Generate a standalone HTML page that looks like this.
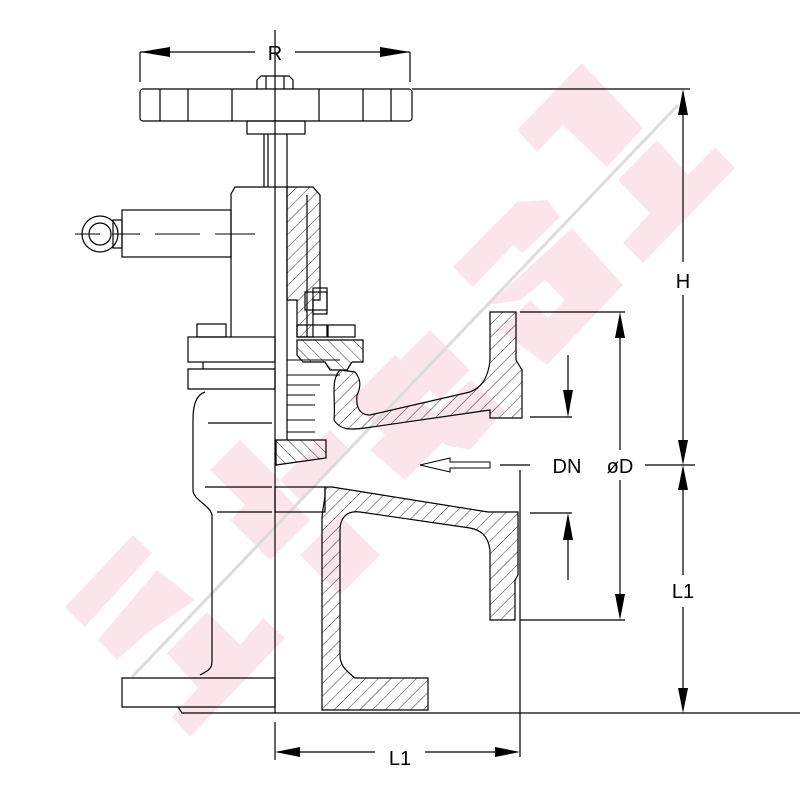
<!DOCTYPE html>
<html><head><meta charset="utf-8"><style>html,body{margin:0;padding:0;background:#fff}svg{display:block}</style></head>
<body>
<svg width="800" height="800" viewBox="0 0 800 800" xmlns="http://www.w3.org/2000/svg" font-family="Liberation Sans, sans-serif">
<defs>
<pattern id="h" width="9" height="9" patternUnits="userSpaceOnUse" patternTransform="rotate(45)">
<line x1="0" y1="0" x2="0" y2="9" stroke="#000" stroke-width="0.8"/></pattern>
<pattern id="h2" width="9" height="9" patternUnits="userSpaceOnUse" patternTransform="rotate(-45)">
<line x1="0" y1="0" x2="0" y2="9" stroke="#000" stroke-width="0.8"/></pattern>
</defs>
<!-- watermark -->
<g fill="#fbe5ea">
<polygon points="517,130 582,63 643,128 607,167 563,125 537,152"/>
<polygon points="618,180 657,140 688,175 715,147 735,168 643,263 623,243 650,213"/>
<polygon points="453,267 517,202 547,200 560,217 523,253 513,245 473,287"/>
<polygon points="488,305 572,228 623,285 547,365 500,330 530,300 548,318 565,300 545,280 520,300"/>
<polygon points="400,360 430,330 470,370 440,400"/>
<polygon points="350,400 395,355 430,390 385,435"/>
<polygon points="370,450 420,400 455,430 405,480"/>
<polygon points="430,420 470,380 505,410 470,450 445,445"/>
<polygon points="210,470 240,440 280,480 250,510"/>
<polygon points="230,520 270,480 310,520 270,560"/>
<polygon points="280,480 330,430 350,450 300,500"/>
<polygon points="300,555 340,515 380,555 340,595"/>
<polygon points="65,607 133,535 152,553 85,627"/>
<polygon points="98,640 157,570 195,600 147,633 117,660"/>
<polygon points="167,653 207,612 240,645 263,618 285,638 190,737 172,717 198,688"/>
</g>
<line x1="132" y1="677" x2="678" y2="105" stroke="#dcdcdc" stroke-width="3"/>
<g fill="none" stroke="#000" stroke-width="1.2">
<!-- R dim -->
<line x1="140" y1="52" x2="140" y2="82"/><line x1="410" y1="52" x2="410" y2="82"/>
<line x1="140" y1="52" x2="255" y2="52"/><line x1="295" y1="52" x2="410" y2="52"/>
<!-- handwheel -->
<rect x="140" y="89" width="272" height="32" rx="3"/>
<line x1="160" y1="89" x2="160" y2="121"/><line x1="188" y1="89" x2="188" y2="121"/><line x1="232" y1="89" x2="232" y2="121"/>
<line x1="319" y1="89" x2="319" y2="121"/><line x1="363" y1="89" x2="363" y2="121"/><line x1="391" y1="89" x2="391" y2="121"/>
<path d="M257,89 V80 l4,-4 h28 l4,4 V89"/><line x1="266" y1="76" x2="266" y2="89"/><line x1="284" y1="76" x2="284" y2="89"/>
<rect x="247" y="121" width="58" height="13"/>
<line x1="264" y1="134" x2="264" y2="187"/><line x1="268" y1="134" x2="268" y2="187"/>
<line x1="275" y1="30" x2="275" y2="713"/><line x1="287" y1="134" x2="287" y2="440"/>
<line x1="412" y1="89" x2="690" y2="89"/>
<!-- yoke -->
<path d="M231,337 V194 l4,-7 H287"/>
<rect x="122" y="210" width="109" height="47"/>
<rect x="113" y="220" width="9" height="28"/>
<circle cx="100" cy="234" r="18"/><circle cx="100" cy="234" r="11"/>
<path d="M75,234 H100 M112,234 H140 M155,234 H200 M215,234 H255" stroke-width="1"/>
<!-- hatched bonnet section -->
<path d="M287,187 H313 L320,195 V300 H313 V337 H297 V300 H287 Z" fill="url(#h)"/>
<line x1="307" y1="195" x2="307" y2="337"/>
<rect x="305" y="292" width="22" height="18"/><rect x="313" y="288" width="14" height="26"/>
<rect x="297" y="325" width="30" height="12"/><rect x="328" y="325" width="27" height="12"/>
<!-- flanges left -->
<rect x="188" y="337" width="87" height="25"/>
<rect x="197" y="324" width="29" height="13"/>
<path d="M203,362 V369 M188,369 H275 V389 H188 Z"/>
<path d="M297,340 H363 V362 H352 L347,370 H330 L325,362 H303 L297,355 Z" fill="url(#h2)"/>
<!-- packing -->
<g stroke-width="1">
<line x1="287" y1="360" x2="340" y2="360"/><line x1="287" y1="375" x2="340" y2="375"/>
<line x1="287" y1="385" x2="320" y2="385"/><line x1="287" y1="395" x2="315" y2="395"/>
<line x1="287" y1="405" x2="315" y2="405"/><line x1="287" y1="420" x2="315" y2="420"/>
<line x1="287" y1="432" x2="315" y2="432"/>
</g>
<!-- body left -->
<path d="M205,392 C196,395 193,405 193,420 V490 C193,500 210,505 212,515 V662 C212,670 205,672 200,675"/>
<path d="M122,678 H275 V707 H122 Z"/>
<path d="M178,707 L182,713 H275"/>
<line x1="205" y1="487" x2="272" y2="487"/><line x1="217" y1="512" x2="272" y2="512"/>
<line x1="208" y1="423" x2="272" y2="423"/>
<!-- lower disk -->
<path d="M276,440 H326 V458 L276,465 Z" fill="url(#h2)"/>
<!-- upper body hatched -->
<path d="M340,370 C330,380 336,400 334,420 C340,430 350,430 365,428 L490,410 L490,418 H522 V370 L516,360 V312 H490 V360 C488,380 480,388 470,392 L370,415 C358,415 356,405 357,395 C362,385 360,378 355,372 Z" fill="url(#h)"/>
<!-- lower body hatched -->
<path d="M325,487 H332 L488,512 H518 V575 L515,580 V620 H490 V550 C488,535 480,530 470,528 L360,512 C345,510 340,520 340,530 V655 C340,665 345,670 355,678 H428 V710 H322 V520 C322,510 325,500 325,495 Z" fill="url(#h)"/>
<rect x="275" y="487" width="50" height="25"/>
<line x1="275" y1="713" x2="800" y2="713"/>
<!-- flow arrow -->
<path d="M490,462 H450 V458 L420,465 L450,472 V468 H490 Z" stroke-width="1"/>
<line x1="500" y1="465" x2="530" y2="465"/>
<!-- DN/øD -->
<line x1="520" y1="312" x2="625" y2="312"/><line x1="520" y1="620" x2="625" y2="620"/>
<line x1="530" y1="417" x2="572" y2="417"/><line x1="530" y1="513" x2="572" y2="513"/>
<line x1="568" y1="355" x2="568" y2="390"/><line x1="568" y1="540" x2="568" y2="580"/>
<line x1="620" y1="335" x2="620" y2="450"/><line x1="620" y1="480" x2="620" y2="597"/>
<line x1="645" y1="465" x2="695" y2="465"/>
<!-- H / L1 right -->
<line x1="683" y1="112" x2="683" y2="262"/><line x1="683" y1="295" x2="683" y2="442"/>
<line x1="683" y1="488" x2="683" y2="575"/><line x1="683" y1="607" x2="683" y2="690"/>
<!-- L1 bottom -->
<line x1="275" y1="722" x2="275" y2="760"/><line x1="520" y1="470" x2="520" y2="757"/>
<line x1="298" y1="752" x2="375" y2="752"/><line x1="425" y1="752" x2="497" y2="752"/>
</g>
<g fill="#000">
<polygon points="140,52 170,47 170,57"/><polygon points="410,52 380,47 380,57"/>
<polygon points="568,417 563,390 573,390"/><polygon points="568,513 563,540 573,540"/>
<polygon points="620,312 615,338 625,338"/><polygon points="620,620 615,594 625,594"/>
<polygon points="683,89 678,115 688,115"/><polygon points="683,465 678,440 688,440"/>
<polygon points="683,465 678,490 688,490"/><polygon points="683,713 678,688 688,688"/>
<polygon points="275,752 300,747 300,757"/><polygon points="520,752 495,747 495,757"/>
</g>
<g font-size="20" fill="#000" text-anchor="middle">
<text x="275" y="60">R</text>
<text x="683" y="288">H</text>
<text x="683" y="598">L1</text>
<text x="567" y="473">DN</text>
<text x="620" y="473">øD</text>
<text x="400" y="765">L1</text>
</g>
</svg>
</body></html>
